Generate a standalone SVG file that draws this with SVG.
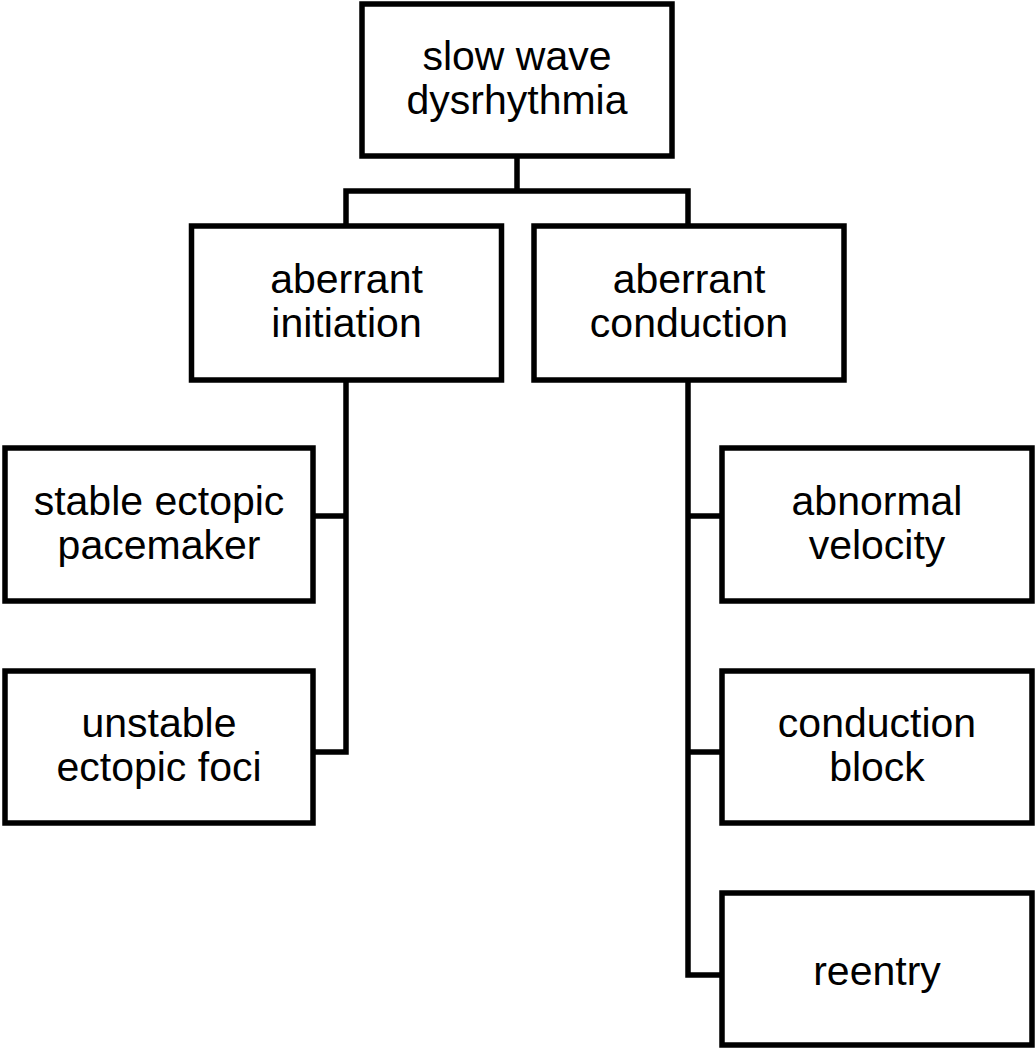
<svg xmlns="http://www.w3.org/2000/svg" width="1036" height="1050" viewBox="0 0 1036 1050">
<style>
.box{fill:#fff;stroke:#000;stroke-width:5.5}
.lbl{font-family:"Liberation Sans",Arial,sans-serif;font-size:41px;fill:#000;text-anchor:middle}
.conn{fill:none;stroke:#000;stroke-width:5.5;stroke-linejoin:miter;stroke-linecap:square}
</style>
<rect width="1036" height="1050" fill="#fff"/>
<g id="connectors">
<path class="conn" d="M517,156 V191 M346,226 V191 H688 V226"/>
<path class="conn" d="M346,380 V752 H313 M346,516 H313"/>
<path class="conn" d="M688,380 V975 H722 M688,516 H722 M688,752 H722"/>
</g>
<g id="n-root"><rect class="box" x="362" y="4" width="310" height="152"/><text class="lbl" x="517" y="70">slow wave</text><text class="lbl" x="517" y="114">dysrhythmia</text></g>
<g id="n-initiation"><rect class="box" x="191.5" y="226" width="310" height="154"/><text class="lbl" x="346.5" y="293">aberrant</text><text class="lbl" x="346.5" y="337">initiation</text></g>
<g id="n-conduction"><rect class="box" x="534" y="226" width="310" height="154"/><text class="lbl" x="689" y="293">aberrant</text><text class="lbl" x="689" y="337">conduction</text></g>
<g id="n-stable"><rect class="box" x="5" y="448" width="308" height="153"/><text class="lbl" x="159" y="515">stable ectopic</text><text class="lbl" x="159" y="559">pacemaker</text></g>
<g id="n-unstable"><rect class="box" x="5" y="671" width="308" height="152"/><text class="lbl" x="159" y="737">unstable</text><text class="lbl" x="159" y="781">ectopic foci</text></g>
<g id="n-velocity"><rect class="box" x="722" y="448" width="310" height="153"/><text class="lbl" x="877" y="515">abnormal</text><text class="lbl" x="877" y="559">velocity</text></g>
<g id="n-block"><rect class="box" x="722" y="671" width="310" height="152"/><text class="lbl" x="877" y="737">conduction</text><text class="lbl" x="877" y="781">block</text></g>
<g id="n-reentry"><rect class="box" x="722" y="893" width="310" height="152"/><text class="lbl" x="877" y="985">reentry</text></g>
</svg>
